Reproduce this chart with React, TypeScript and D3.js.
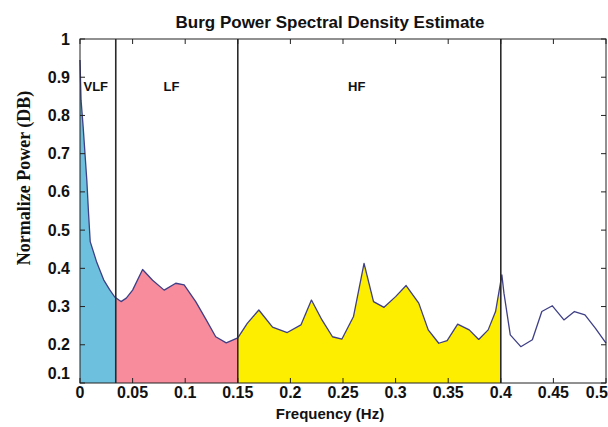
import { useMemo } from 'react'
import { scaleLinear, area, line, curveLinear } from 'd3'

// Burg PSD curve
const FREQ = [
  0, 0.001, 0.003, 0.0065, 0.008, 0.0097, 0.016, 0.0225, 0.028, 0.033, 0.039, 0.044, 0.05, 0.0595,
  0.069, 0.08, 0.091, 0.099, 0.11, 0.12, 0.129, 0.139, 0.15, 0.159, 0.17, 0.183, 0.197, 0.21, 0.22,
  0.23, 0.24, 0.249, 0.26, 0.27, 0.279, 0.289, 0.3, 0.31, 0.322, 0.331, 0.341, 0.349, 0.359, 0.37,
  0.379, 0.388, 0.395, 0.401, 0.403, 0.409, 0.419, 0.43, 0.439, 0.449, 0.46, 0.47, 0.48, 0.49, 0.5,
]
const POWER = [
  0.945, 0.84, 0.77, 0.63, 0.55, 0.47, 0.415, 0.37, 0.345, 0.325, 0.313, 0.322, 0.343, 0.397,
  0.369, 0.343, 0.361, 0.357, 0.313, 0.265, 0.221, 0.205, 0.218, 0.256, 0.291, 0.246, 0.232, 0.252, 0.317,
  0.265, 0.221, 0.215, 0.274, 0.413, 0.313, 0.298, 0.326, 0.355, 0.309, 0.239, 0.204, 0.211, 0.254, 0.239,
  0.214, 0.239, 0.287, 0.383, 0.335, 0.226, 0.195, 0.213, 0.287, 0.302, 0.265, 0.287, 0.278, 0.243, 0.204,
]

const BAND_EDGES = [0, 0.034, 0.15, 0.4]
const BAND_NAMES = ['VLF', 'LF', 'HF']
const BAND_LABEL_AT = [0.015, 0.087, 0.263]
const BAND_COLORS = ['#6ec1de', '#f88b9c', '#fdee00']

const X_TICKS = [0, 0.05, 0.1, 0.15, 0.2, 0.25, 0.3, 0.35, 0.4, 0.45, 0.5]
const X_LABELS = ['0', '0.05', '0.1', '0.15', '0.2', '0.25', '0.3', '0.35', '0.4', '0.45', '0.5']
const Y_TICKS = [0.1, 0.2, 0.3, 0.4, 0.5, 0.6, 0.7, 0.8, 0.9, 1]
const Y_LABELS = ['0.1', '0.2', '0.3', '0.4', '0.5', '0.6', '0.7', '0.8', '0.9', '1']

const W = 608
const H = 427
const L = 80
const R = 606
const T = 39
const B = 383
const TICK = 5
const SANS = 'Liberation Sans, Arial, sans-serif'

export default function App() {
  const pts = FREQ.map((f, i) => ({ f, v: POWER[i] }))

  const { x, y } = useMemo(
    () => ({
      x: scaleLinear().domain([0, 0.5]).range([L, R]),
      y: scaleLinear().domain([0.1, 1]).range([B, T]),
    }),
    [],
  )

  const areaGen = area<{ f: number; v: number }>()
    .x((d) => x(d.f))
    .y0(y(0.1))
    .y1((d) => y(d.v))
    .curve(curveLinear)
  const lineGen = line<{ f: number; v: number }>()
    .x((d) => x(d.f))
    .y((d) => y(d.v))

  const bands = BAND_NAMES.map((name, i) => ({
    name,
    x0: x(BAND_EDGES[i]),
    x1: x(BAND_EDGES[i + 1]),
    color: BAND_COLORS[i],
    lx: x(BAND_LABEL_AT[i]),
  }))

  return (
    <svg
      width={W}
      height={H}
      viewBox={`0 0 ${W} ${H}`}
      style={{ position: 'absolute', left: 0, top: 0, background: '#fff' }}
    >
      <defs>
        {bands.map((b, i) => (
          <clipPath id={`band-${i}`} key={b.name}>
            <rect x={b.x0} y={T} width={b.x1 - b.x0} height={B - T} />
          </clipPath>
        ))}
      </defs>

      <text x={330} y={28} textAnchor="middle" fontFamily={SANS} fontWeight="bold" fontSize={17} fill="#111">
        Burg Power Spectral Density Estimate
      </text>

      {bands.map((b, i) => (
        <path key={b.name} d={areaGen(pts) ?? ''} fill={b.color} clipPath={`url(#band-${i})`} />
      ))}

      <path d={lineGen(pts) ?? ''} fill="none" stroke="#3e3f86" strokeWidth={1.3} strokeLinejoin="round" />

      {BAND_EDGES.slice(1).map((e) => (
        <line key={e} x1={x(e)} x2={x(e)} y1={T} y2={B} stroke="#2a2a2a" strokeWidth={1.6} />
      ))}

      {bands.map((b) => (
        <text key={b.name} x={b.lx} y={y(0.875)} textAnchor="middle" dominantBaseline="central"
          fontFamily={SANS} fontWeight="bold" fontSize={13} fill="#111">
          {b.name}
        </text>
      ))}

      <rect x={L} y={T} width={R - L} height={B - T} fill="none" stroke="#222" strokeWidth={1} />

      {X_TICKS.map((t, i) => (
        <g key={t}>
          <line x1={x(t)} x2={x(t)} y1={B} y2={B - TICK} stroke="#222" />
          <line x1={x(t)} x2={x(t)} y1={T} y2={T + TICK} stroke="#222" />
          <text x={i === X_TICKS.length - 1 ? x(t) + 2 : x(t)} y={398}
            textAnchor={i === X_TICKS.length - 1 ? 'end' : 'middle'}
            fontFamily={SANS} fontWeight="bold" fontSize={16} fill="#111">
            {X_LABELS[i]}
          </text>
        </g>
      ))}

      {Y_TICKS.map((t, i) => (
        <g key={t}>
          <line x1={L} x2={L + TICK} y1={y(t)} y2={y(t)} stroke="#222" />
          <line x1={R} x2={R - TICK} y1={y(t)} y2={y(t)} stroke="#222" />
          <text x={70} y={Math.min(y(t), B - 10)} textAnchor="end" dominantBaseline="central"
            fontFamily={SANS} fontWeight="bold" fontSize={16} fill="#111">
            {Y_LABELS[i]}
          </text>
        </g>
      ))}

      <text x={330} y={419} textAnchor="middle" fontFamily={SANS} fontWeight="bold" fontSize={15} fill="#111">
        Frequency (Hz)
      </text>
      <text transform={`translate(30, 178) rotate(-90)`} textAnchor="middle"
        fontFamily="Liberation Serif, Times New Roman, serif" fontWeight="bold" fontSize={18} fill="#111">
        Normalize Power (DB)
      </text>
    </svg>
  )
}
